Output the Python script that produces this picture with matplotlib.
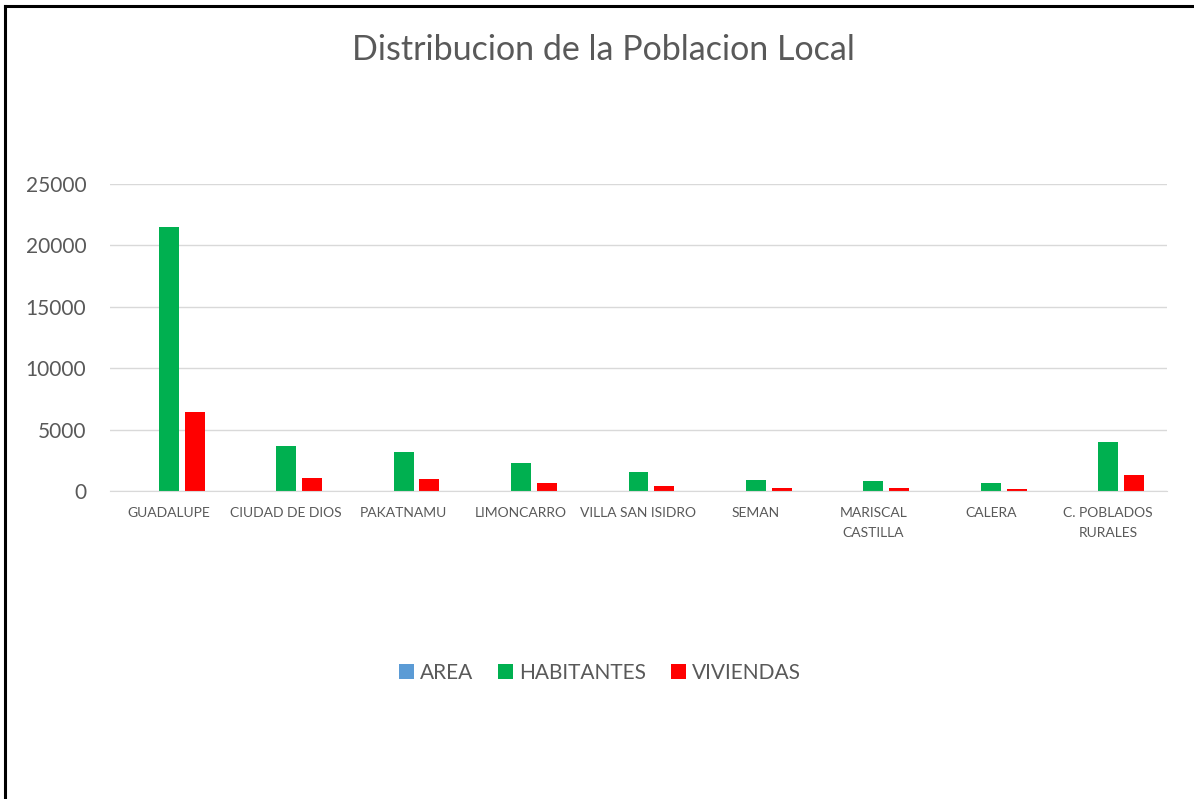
import matplotlib.pyplot as plt
import numpy as np

# categories and series
localidades = ["GUADALUPE", "CIUDAD DE DIOS", "PAKATNAMU", "LIMONCARRO", "VILLA SAN ISIDRO",
               "SEMAN", "MARISCAL\nCASTILLA", "CALERA", "C. POBLADOS\nRURALES"]
area = [0, 0, 0, 0, 0, 0, 0, 0, 0]
habitantes = [21500, 3640, 3170, 2300, 1560, 880, 850, 630, 3970]
viviendas = [6420, 1065, 1015, 690, 410, 220, 240, 140, 1340]

y_ticks = [0, 5000, 10000, 15000, 20000, 25000]

plt.rcParams['font.family'] = ['Lato', 'DejaVu Sans']
gris = '#595959'

fig = plt.figure(figsize=(11.94, 7.99), dpi=100)
ax = fig.add_axes([110 / 1194, 1 - 491 / 799, (1167 - 110) / 1194, (491 - 184) / 799])

x = np.arange(len(localidades))
w = 0.17
paso = 0.22
ax.bar(x - paso, area, w, color='#5B9BD5', label='AREA')
ax.bar(x, habitantes, w, color='#00B050', label='HABITANTES')
ax.bar(x + paso, viviendas, w, color='#FF0000', label='VIVIENDAS')

ax.set_xlim(-0.5, len(localidades) - 0.5)
ax.set_ylim(0, 25000)
ax.set_yticks(y_ticks)
ax.set_yticklabels([str(v) for v in y_ticks], fontsize=15, color=gris)
ax.set_xticks(x)
ax.set_xticklabels(localidades, fontsize=10, color=gris, linespacing=1.8, va='top')
ax.tick_params(axis='y', length=0, pad=17)
ax.tick_params(axis='x', length=0, pad=11.5)

# gridlines
ax.grid(axis='y', color='#D9D9D9', linewidth=1)
ax.set_axisbelow(True)
for s in ['top', 'right', 'left']:
    ax.spines[s].set_visible(False)
ax.spines['bottom'].set_color('#D9D9D9')

fig.text(0.5055, 1 - 50 / 799, "Distribucion de la Poblacion Local", ha='center', va='center',
         fontsize=24.5, color=gris)

leg = fig.legend(loc='center', bbox_to_anchor=(600 / 1194, 1 - 673 / 799), ncol=3, frameon=False,
                 fontsize=15, handlelength=0.7, handleheight=0.7, handletextpad=0.3, columnspacing=1.2)
for t in leg.get_texts():
    t.set_color(gris)

# marco del grafico (solo se ve arriba e izquierda)
fig.add_artist(plt.Line2D([5 / 1194, 5 / 1194], [0, 1 - 6 / 799], color='black', linewidth=2.2))
fig.add_artist(plt.Line2D([5 / 1194, 1], [1 - 6 / 799, 1 - 6 / 799], color='black', linewidth=2.2))

fig.savefig('out.png', dpi=100)
